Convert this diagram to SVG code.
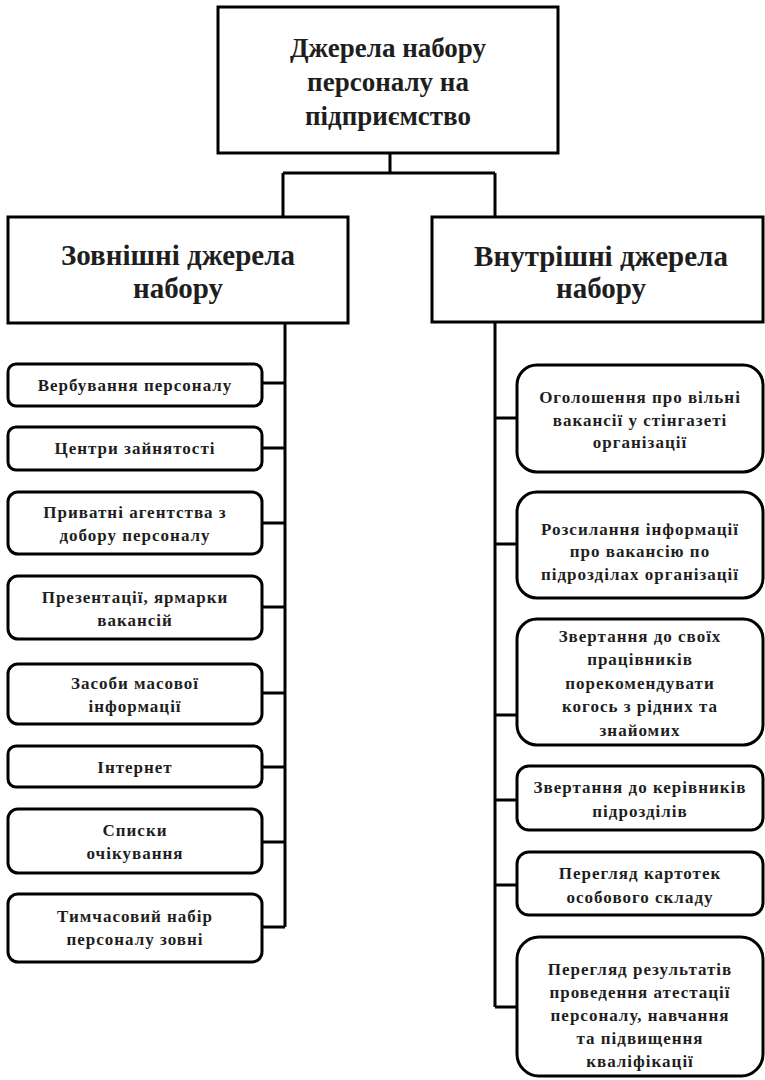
<svg xmlns="http://www.w3.org/2000/svg" width="765" height="1080" viewBox="0 0 765 1080">
<style>
.box{fill:#fff;stroke:#000;stroke-width:3}
.conn{fill:none;stroke:#000;stroke-width:3}
.t{font-family:"Liberation Serif","Times New Roman",serif;font-weight:bold;fill:#1e1e1e;text-anchor:middle}
.big{font-size:27px}
.mid{font-size:29px}
.sm{font-size:17px;letter-spacing:1px}
</style>
<rect width="765" height="1080" fill="#fff"/>
<g id="connectors">
<path class="conn" d="M390 153V173M283 173H495M283 173V217M495 173V217"/>
<path class="conn" d="M285 323V927M262 383H285M262 448H285M262 523H285M262 607H285M262 693H285M262 767H285M262 842H285M262 927H285"/>
<path class="conn" d="M495 322V1007M495 418H517M495 544H517M495 715H517M495 800H517M495 885H517M495 1007H517"/>
</g>
<g id="root">
<rect class="box" x="218" y="7" width="340" height="146"/>
<text class="t big" x="388" y="57">Джерела набору</text>
<text class="t big" x="388" y="91">персоналу на</text>
<text class="t big" x="388" y="125">підприємство</text>
</g>
<g id="external">
<rect class="box" x="8" y="217" width="340" height="106"/>
<text class="t mid" x="178" y="265">Зовнішні джерела</text>
<text class="t mid" x="178" y="298">набору</text>
</g>
<g id="internal">
<rect class="box" x="432" y="217" width="331" height="105"/>
<text class="t mid" x="601" y="266">Внутрішні джерела</text>
<text class="t mid" x="601" y="298">набору</text>
</g>
<g id="e1"><rect class="box" x="8" y="364" width="254" height="42" rx="8"/><text class="t sm" x="135" y="391">Вербування персоналу</text></g>
<g id="e2"><rect class="box" x="8" y="427" width="254" height="43" rx="8"/><text class="t sm" x="135" y="454">Центри зайнятості</text></g>
<g id="e3"><rect class="box" x="8" y="492" width="254" height="62" rx="10"/><text class="t sm" x="135" y="518">Приватні  агентства з</text><text class="t sm" x="135" y="541">добору персоналу</text></g>
<g id="e4"><rect class="box" x="8" y="576" width="254" height="63" rx="10"/><text class="t sm" x="135" y="603">Презентації, ярмарки</text><text class="t sm" x="135" y="626">вакансій</text></g>
<g id="e5"><rect class="box" x="8" y="664" width="254" height="60" rx="10"/><text class="t sm" x="135" y="689">Засоби масової</text><text class="t sm" x="135" y="712">інформації</text></g>
<g id="e6"><rect class="box" x="8" y="746" width="254" height="41" rx="8"/><text class="t sm" x="135" y="773">Інтернет</text></g>
<g id="e7"><rect class="box" x="8" y="809" width="254" height="64" rx="10"/><text class="t sm" x="135" y="836">Списки</text><text class="t sm" x="135" y="859">очікування</text></g>
<g id="e8"><rect class="box" x="8" y="894" width="254" height="68" rx="10"/><text class="t sm" x="135" y="922">Тимчасовий набір</text><text class="t sm" x="135" y="945">персоналу зовні</text></g>
<g id="i1"><rect class="box" x="517" y="365" width="246" height="107" rx="20"/><text class="t sm" x="640" y="403">Оголошення про вільні</text><text class="t sm" x="640" y="426">вакансії у стінгазеті</text><text class="t sm" x="640" y="448">організації</text></g>
<g id="i2"><rect class="box" x="517" y="492" width="246" height="106" rx="20"/><text class="t sm" x="640" y="535">Розсилання інформації</text><text class="t sm" x="640" y="557">про вакансію по</text><text class="t sm" x="640" y="580">підрозділах організації</text></g>
<g id="i3"><rect class="box" x="517" y="619" width="246" height="126" rx="20"/><text class="t sm" x="640" y="642">Звертання до своїх</text><text class="t sm" x="640" y="665">працівників</text><text class="t sm" x="640" y="689">порекомендувати</text><text class="t sm" x="640" y="712">когось з рідних та</text><text class="t sm" x="640" y="736">знайомих</text></g>
<g id="i4"><rect class="box" x="517" y="766" width="246" height="64" rx="12"/><text class="t sm" x="640" y="793">Звертання до керівників</text><text class="t sm" x="640" y="817">підрозділів</text></g>
<g id="i5"><rect class="box" x="517" y="852" width="246" height="63" rx="12"/><text class="t sm" x="640" y="879">Перегляд картотек</text><text class="t sm" x="640" y="903">особового складу</text></g>
<g id="i6"><rect class="box" x="517" y="937" width="246" height="139" rx="22"/><text class="t sm" x="640" y="975">Перегляд результатів</text><text class="t sm" x="640" y="998">проведення атестації</text><text class="t sm" x="640" y="1021">персоналу, навчання</text><text class="t sm" x="640" y="1044">та підвищення</text><text class="t sm" x="640" y="1067">кваліфікації</text></g>
</svg>
